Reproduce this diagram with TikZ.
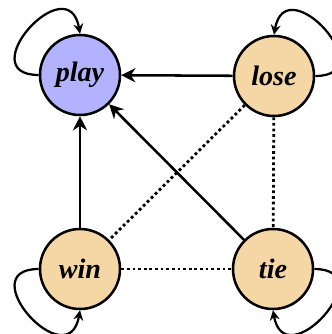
\documentclass[tikz,border=0pt]{standalone}
\usepackage{fontspec}
\setmainfont{Liberation Serif}
\usepackage{tikz}
\usetikzlibrary{arrows.meta}
\usepackage{xcolor}
\definecolor{playblue}{RGB}{178,178,255}
\definecolor{gametan}{RGB}{245,215,166}

\tikzset{
  state/.style={circle,draw,line width=0.9pt,minimum size=1cm,inner sep=0pt,
    font=\bfseries\itshape\fontsize{10}{12}\selectfont},
  selfloop/.style={-{Stealth[length=3.5pt,width=3.5pt]},line width=0.8pt,looseness=3},
  dots/.style={line width=1pt,densely dotted}
}

\begin{document}
\begin{tikzpicture}[auto,>={Stealth[length=5pt,width=5pt]},thick,x=0.0125cm,y=-0.0125cm]
\useasboundingbox (0,0) rectangle (331,334);
\node[state,fill=playblue](play) at (80,75){play};
\node[state,fill=gametan](lose) at (274,76){lose};
\node[state,fill=gametan](win) at (80,269){win};
\node[state,fill=gametan](tie) at (273,269){tie};
\draw[->,line width=0.9pt](lose)--(play);
\draw[->,line width=0.9pt](win)--(play);
\draw[->,line width=0.9pt](tie)--(play);
\draw[dots](lose)--(win);
\draw[dots](lose)--(tie);
\draw[dots](win)--(tie);
\draw[selfloop](play.180) to[out=180,in=100] (play.90);
\draw[selfloop](lose.0) to[out=0,in=80] (lose.90);
\draw[selfloop](win.180) to[out=180,in=260] (win.270);
\draw[selfloop](tie.0) to[out=0,in=280] (tie.270);
\end{tikzpicture}
\end{document}
